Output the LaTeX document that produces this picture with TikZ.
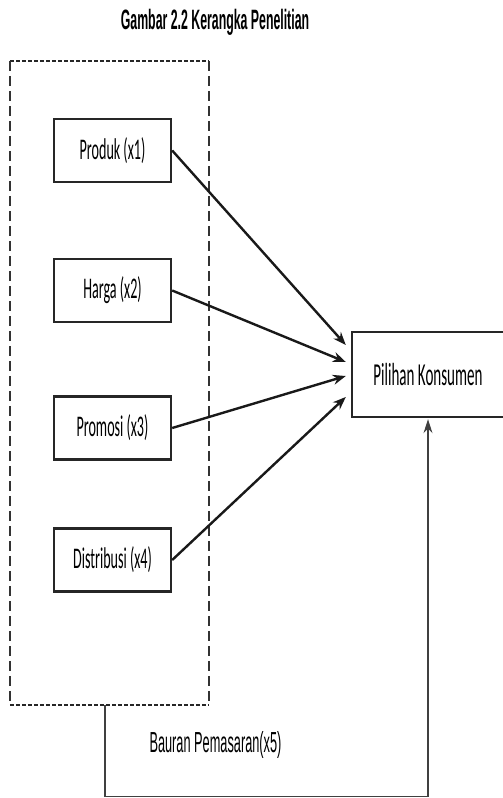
\documentclass[tikz,border=0pt]{standalone}
\usepackage{fontspec}
\newfontfamily\kotakfont{Carlito}[FakeStretch=0.47]
\newfontfamily\narrowfont{Liberation Sans}[FakeStretch=0.44]
\usepackage{tikz}
\usetikzlibrary{arrows.meta, positioning}

\tikzset{
  varbox/.style={draw=black!85, line width=2.4pt, minimum width=117pt, minimum height=63pt,
    inner sep=0pt, font=\kotakfont\fontsize{30}{36}\selectfont},
  panah/.style={-{Stealth[length=13pt,width=10pt]}, line width=2.4pt, black!90},
  hdash/.style={line width=2.2pt, black!85, dash pattern=on 4pt off 2pt},
  vdash/.style={line width=1.6pt, black!80, dash pattern=on 10pt off 5pt},
}

\begin{document}
\begin{tikzpicture}[x=1pt, y=-1pt]
\useasboundingbox (0,0) rectangle (503,798);

% Draw title
\node[font=\narrowfont\bfseries\fontsize{28}{34}\selectfont] (judul) at (215,22) {Gambar 2.2 Kerangka Penelitian};

% Draw group frame
\node[minimum width=199pt, minimum height=644pt, inner sep=0pt] (bauran) at (109.5,383) {};
\draw[hdash] (bauran.north west) -- (bauran.north east);
\draw[hdash] (bauran.south west) -- (bauran.south east);
\draw[vdash] (bauran.north west) -- (bauran.south west);
\draw[vdash] (bauran.north east) -- (bauran.south east);

% Draw variable boxes
\node[varbox] (produk) at (112.5,150.5) {Produk (x1)};
\node[varbox] (harga) at (112.5,290.5) {Harga (x2)};
\node[varbox] (promosi) at (112.5,428) {Promosi (x3)};
\node[varbox] (distribusi) at (112.5,560) {Distribusi (x4)};

% Draw target box
\node[varbox, minimum width=152pt, minimum height=85pt,
  font=\kotakfont\fontsize{32}{38}\selectfont] (pilihan) at (428,374.5) {Pilihan Konsumen};

% Draw arrows
\draw[panah] (produk.east) -- ([xshift=-5pt,yshift=29.5pt]pilihan.west);
\draw[panah] (harga.east) -- ([xshift=-5pt,yshift=12.5pt]pilihan.west);
\draw[panah] (promosi.east) -- ([xshift=-5pt,yshift=-1.5pt]pilihan.west);
\draw[panah] (distribusi.east) -- ([xshift=-5pt,yshift=-22.5pt]pilihan.west);

% Draw bottom link
\draw[-{Stealth[length=14pt,width=9pt]}, line width=1.2pt, black!75]
  ([xshift=-4.5pt]bauran.south) -- ++(0,91) -| ([yshift=-1pt]pilihan.south);
\node[font=\narrowfont\fontsize{29}{34}\selectfont] (label) at (215.5,745) {Bauran Pemasaran(x5)};

\end{tikzpicture}
\end{document}
